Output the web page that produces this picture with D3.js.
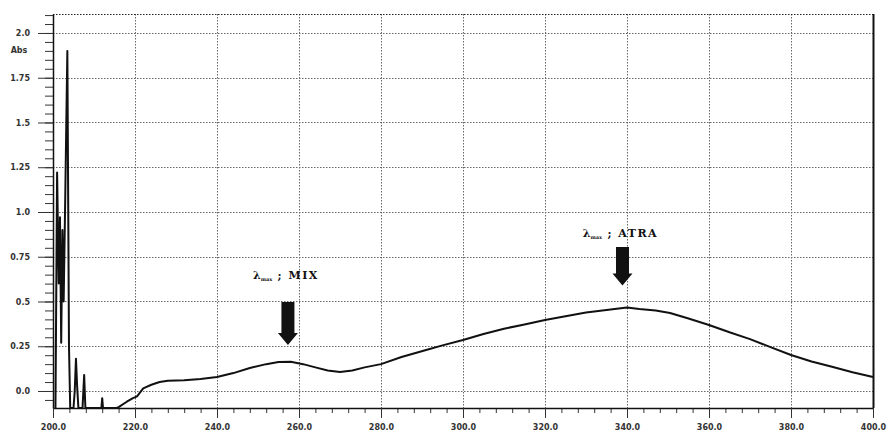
<!DOCTYPE html>
<html>
<head>
<meta charset="utf-8">
<script src="https://cdn.jsdelivr.net/npm/d3@7"></script>
<style>
  body { margin: 0; background: #fff; }
  svg { display: block; }
</style>
</head>
<body>
<script>
// spectrum data, wavelength (nm) vs absorbance
var wavelengths = [200.6, 201.0, 201.4, 201.7, 202.0, 202.3, 202.6, 203.0, 203.5, 203.9, 204.2,
  205.0, 205.3, 205.6, 205.9, 206.2, 207.2, 207.6, 207.9, 211.8, 212.0, 212.2, 215.5,
  216, 218, 219.5, 220.5, 222, 224, 226, 228, 232, 236, 240, 244, 248, 252, 255, 258,
  261, 264, 267, 270, 273, 276, 280, 285, 291, 295, 300, 305, 310, 315, 320, 325, 330,
  335, 340, 343, 347, 350.5, 355, 360, 365, 370, 375, 380, 385, 390, 395, 400];
var absorbance = [-0.095, 1.22, 0.6, 0.97, 0.27, 0.9, 0.5, 1.1, 1.9, 0.25, -0.095,
  -0.095, 0.0, 0.18, 0.02, -0.095, -0.095, 0.09, -0.095, -0.095, -0.04, -0.095, -0.095,
  -0.09, -0.06, -0.04, -0.03, 0.015, 0.035, 0.05, 0.057, 0.06, 0.067, 0.078, 0.1, 0.128, 0.15, 0.162, 0.163,
  0.15, 0.132, 0.115, 0.106, 0.115, 0.132, 0.15, 0.19, 0.229, 0.255, 0.285, 0.318, 0.348, 0.372, 0.397, 0.418, 0.438,
  0.452, 0.467, 0.458, 0.45, 0.436, 0.405, 0.369, 0.328, 0.29, 0.245, 0.201, 0.165, 0.135, 0.105, 0.078];

var yTicks = [0, 0.25, 0.5, 0.75, 1.0, 1.25, 1.5, 1.75, 2.0];
var yTickLabels = ["0.0", "0.25", "0.5", "0.75", "1.0", "1.25", "1.5", "1.75", "2.0"];
var xTicks = [200, 220, 240, 260, 280, 300, 320, 340, 360, 380, 400];
var xTickLabels = ["200.0", "220.0", "240.0", "260.0", "280.0", "300.0", "320.0", "340.0", "360.0", "380.0", "400.0"];

// annotations
var annotNames = ["MIX", "ATRA"];
var annotNm = [257.3, 338.9];
var annotTip = [0.257, 0.59];
var annotTop = [0.497, 0.804];
var annotText = [0.626, 0.86];

var margin = {top: 14, right: 15, bottom: 30, left: 53},
    width = 888 - margin.left - margin.right,
    height = 438 - margin.top - margin.bottom;

var svg = d3.select("body")
  .append("svg")
  .attr("width", 888)
  .attr("height", 438)
  .append("g")
  .attr("transform", "translate(" + margin.left + "," + margin.top + ")");

var x = d3.scaleLinear().domain([200, 400]).range([0, width]);
var y = d3.scaleLinear().domain([-0.095, 2.106]).range([height, 0]);

// grid
var grid = svg.append("g")
  .attr("stroke", "#666")
  .attr("stroke-width", 1)
  .attr("stroke-dasharray", "1.5,1.5");
grid.selectAll("line.h")
  .data(yTicks)
  .enter().append("line")
  .attr("x1", 0).attr("x2", width)
  .attr("y1", function(d) { return Math.round(y(d)) + 0.5; })
  .attr("y2", function(d) { return Math.round(y(d)) + 0.5; });
grid.selectAll("line.v")
  .data(xTicks.slice(1, -1))
  .enter().append("line")
  .attr("y1", 0).attr("y2", height)
  .attr("x1", function(d) { return Math.round(x(d)) + 0.5; })
  .attr("x2", function(d) { return Math.round(x(d)) + 0.5; });
// top border dotted
grid.append("line")
  .attr("x1", 0).attr("x2", width)
  .attr("y1", 0.5).attr("y2", 0.5)
  .attr("stroke", "#222");

// right border
svg.append("line")
  .attr("x1", width + 0.5).attr("x2", width + 0.5)
  .attr("y1", 0).attr("y2", height)
  .attr("stroke", "#111").attr("stroke-width", 2);

// minor ticks
var yMinor = d3.range(-1, 43).map(function(i) { return i * 0.05; });
svg.append("g")
  .call(d3.axisLeft(y).tickValues(yMinor).tickSize(8).tickFormat(""))
  .call(function(g) { g.select(".domain").remove(); });
var xMinor = d3.range(200, 401, 4);
svg.append("g")
  .attr("transform", "translate(0," + height + ")")
  .call(d3.axisBottom(x).tickValues(xMinor).tickSize(5).tickFormat(""))
  .call(function(g) { g.select(".domain").remove(); });

// major axes
svg.append("g")
  .call(d3.axisLeft(y).tickValues(yTicks).tickSize(15).tickSizeOuter(0)
    .tickFormat(function(d, i) { return yTickLabels[i]; }))
  .call(function(g) {
    g.selectAll("text").attr("x", -23);
  });
svg.append("g")
  .attr("transform", "translate(0," + height + ")")
  .call(d3.axisBottom(x).tickValues(xTicks).tickSize(10).tickSizeOuter(0)
    .tickFormat(function(d, i) { return xTickLabels[i]; }))
  .call(function(g) {
    g.selectAll("text").attr("y", 16);
  });

svg.selectAll(".tick text")
  .style("font-family", "DejaVu Sans")
  .style("font-weight", "bold")
  .style("font-size", "8px")
  .attr("fill", "#333");
svg.selectAll(".domain").attr("stroke", "#111").attr("stroke-width", 1.5);
svg.selectAll(".tick line").attr("stroke", "#333");

// Y axis label
svg.append("text")
  .attr("x", -34)
  .attr("y", y(1.89))
  .attr("text-anchor", "middle")
  .style("font-family", "DejaVu Sans")
  .style("font-weight", "bold")
  .style("font-size", "8px")
  .attr("fill", "#333")
  .text("Abs");

// spectrum
var pts = wavelengths.map(function(w, i) { return [w, absorbance[i]]; });
var line = d3.line()
  .x(function(d) { return x(d[0]); })
  .y(function(d) { return y(d[1]); });
svg.append("path")
  .datum(pts)
  .attr("fill", "none")
  .attr("stroke", "#111")
  .attr("stroke-width", 2)
  .attr("stroke-linejoin", "round")
  .attr("d", line);

// annotations: arrows and labels
annotNames.forEach(function(name, i) {
  var cx = x(annotNm[i]);
  var tip = y(annotTip[i]);
  var top = y(annotTop[i]);
  var headH = 12;
  var shaftW = 6.5, headW = 10;
  svg.append("path")
    .attr("fill", "#111")
    .attr("d", "M" + (cx - shaftW) + "," + top +
      "L" + (cx + shaftW) + "," + top +
      "L" + (cx + shaftW) + "," + (tip - headH) +
      "L" + (cx + headW) + "," + (tip - headH) +
      "L" + cx + "," + tip +
      "L" + (cx - headW) + "," + (tip - headH) +
      "L" + (cx - shaftW) + "," + (tip - headH) + "Z");

  var t = svg.append("text")
    .attr("x", cx - 2)
    .attr("y", y(annotText[i]))
    .attr("text-anchor", "middle")
    .style("font-family", "DejaVu Serif")
    .style("font-weight", "bold")
    .style("font-size", "11px")
    .attr("fill", "#111");
  t.append("tspan").text("λ");
  t.append("tspan").attr("font-size", "5px").attr("dy", 2).text("max");
  t.append("tspan").attr("dy", -2).style("letter-spacing", "1.5px").text(" ; " + name);
});
</script>
</body>
</html>
